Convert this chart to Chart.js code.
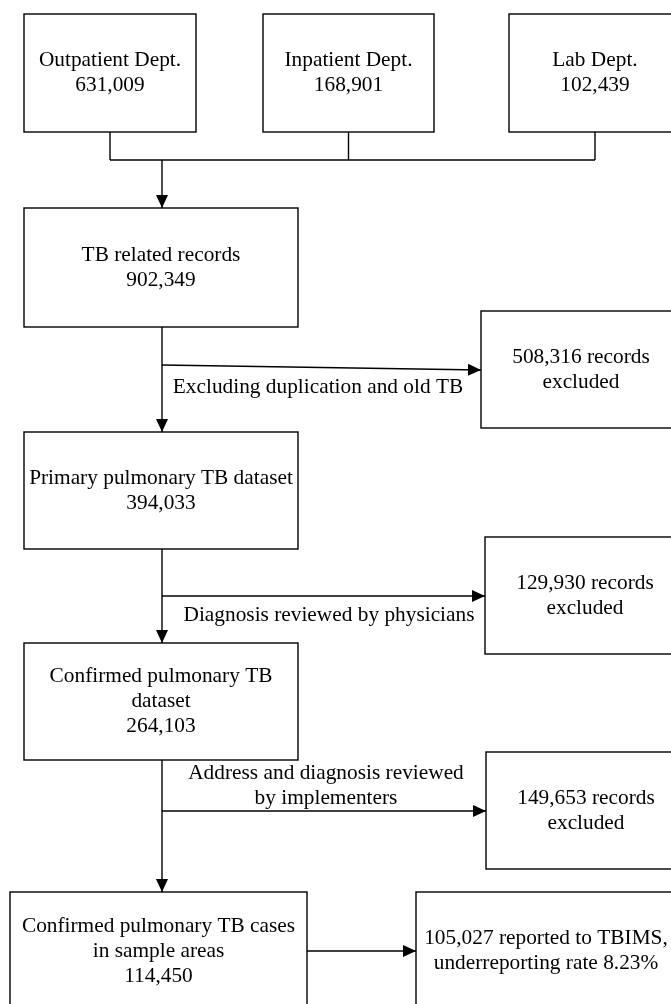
<!DOCTYPE html>
<html>
<head>
<meta charset="utf-8">
<script src="https://cdn.jsdelivr.net/npm/chart.js@4.4.1/dist/chart.umd.min.js"></script>
<style>
  html, body { margin: 0; padding: 0; background: #fff; }
  #wrap { width: 671px; height: 1004px; position: relative; }
</style>
</head>
<body>
<div id="wrap"><canvas id="flowChart"></canvas></div>
<script>
// Données du diagramme
const sourceDepts = ["Outpatient Dept.", "Inpatient Dept.", "Lab Dept."];
const sourceCounts = [631009, 168901, 102439];

const stageLabels = [
    ["TB related records"],
    ["Primary pulmonary TB dataset"],
    ["Confirmed pulmonary TB", "dataset"],
    ["Confirmed pulmonary TB cases", "in sample areas"]
];
const stageCounts = [902349, 394033, 264103, 114450];

const exclusionSteps = [
    ["Excluding duplication and old TB"],
    ["Diagnosis reviewed by physicians"],
    ["Address and diagnosis reviewed", "by implementers"]
];
const excludedCounts = [508316, 129930, 149653];

const reportedCount = 105027;
const underreportingRate = 8.23;

// Mise en page (unités = pixels de l'axe)
const sourceBoxes = [
    { x: 24, y: 14, w: 172, h: 118 },
    { x: 263, y: 14, w: 171, h: 118 },
    { x: 509, y: 14, w: 172, h: 118 }
];
const stageBoxes = [
    { x: 24, y: 208, w: 274, h: 119 },
    { x: 24, y: 432, w: 274, h: 117 },
    { x: 24, y: 643, w: 274, h: 117 },
    { x: 10, y: 892, w: 297, h: 118 }
];
const excludedBoxes = [
    { x: 481, y: 311, w: 200, h: 117 },
    { x: 485, y: 537, w: 200, h: 117 },
    { x: 486, y: 752, w: 200, h: 117 }
];
const reportBox = { x: 416, y: 892, w: 260, h: 118 };
const branchY = [[365, 370], [596, 596], [811, 811]];
const stepLabelPos = [
    { x: 318, y: 387 },
    { x: 329, y: 615 },
    { x: 326, y: 773 }
];
const mainX = 162;
const joinY = 160;
const lineH = 25;

const fmt = n => n.toLocaleString("en-US");

// Dessin des boîtes et des flèches avec les échelles du graphique
const flowPlugin = {
    id: "flow",
    afterDatasetsDraw(chart) {
        const ctx = chart.ctx;
        const X = v => chart.scales.x.getPixelForValue(v);
        const Y = v => chart.scales.y.getPixelForValue(v);

        ctx.save();
        ctx.strokeStyle = "#000";
        ctx.fillStyle = "#000";
        ctx.lineWidth = 1.4;
        ctx.font = '22px "Liberation Serif", "Times New Roman", serif';
        ctx.textAlign = "center";
        ctx.textBaseline = "middle";

        function box(b) {
            ctx.strokeRect(X(b.x), Y(b.y), X(b.x + b.w) - X(b.x), Y(b.y + b.h) - Y(b.y));
        }
        function lines(txt, cx, cy) {
            const top = cy - (txt.length - 1) * lineH / 2;
            txt.forEach((t, i) => {
                ctx.save();
                ctx.translate(X(cx), Y(top + i * lineH));
                ctx.scale(0.97, 1);
                ctx.fillText(t, 0, 0);
                ctx.restore();
            });
        }
        function line(x1, y1, x2, y2) {
            ctx.beginPath();
            ctx.moveTo(X(x1), Y(y1));
            ctx.lineTo(X(x2), Y(y2));
            ctx.stroke();
        }
        function arrow(x1, y1, x2, y2) {
            line(x1, y1, x2, y2);
            const a = Math.atan2(Y(y2) - Y(y1), X(x2) - X(x1));
            const L = 13, W = 6;
            const tx = X(x2), ty = Y(y2);
            ctx.beginPath();
            ctx.moveTo(tx, ty);
            ctx.lineTo(tx - L * Math.cos(a) + W * Math.sin(a), ty - L * Math.sin(a) - W * Math.cos(a));
            ctx.lineTo(tx - L * Math.cos(a) - W * Math.sin(a), ty - L * Math.sin(a) + W * Math.cos(a));
            ctx.closePath();
            ctx.fill();
        }

        // départements sources
        sourceBoxes.forEach((b, i) => {
            box(b);
            lines([sourceDepts[i], fmt(sourceCounts[i])], b.x + b.w / 2, b.y + b.h / 2);
            line(b.x + b.w / 2, b.y + b.h, b.x + b.w / 2, joinY);
        });
        line(sourceBoxes[0].x + sourceBoxes[0].w / 2, joinY, sourceBoxes[2].x + sourceBoxes[2].w / 2, joinY);
        arrow(mainX, joinY, mainX, stageBoxes[0].y);

        // étapes principales
        stageBoxes.forEach((b, i) => {
            box(b);
            lines(stageLabels[i].concat(fmt(stageCounts[i])), b.x + b.w / 2, b.y + b.h / 2);
            if (i < stageBoxes.length - 1) {
                const nb = stageBoxes[i + 1];
                arrow(mainX, b.y + b.h, mainX, nb.y);
                const eb = excludedBoxes[i];
                arrow(mainX, branchY[i][0], eb.x, branchY[i][1]);
                box(eb);
                lines([fmt(excludedCounts[i]) + " records", "excluded"], eb.x + eb.w / 2, eb.y + eb.h / 2);
                lines(exclusionSteps[i], stepLabelPos[i].x, stepLabelPos[i].y + (exclusionSteps[i].length - 1) * lineH / 2);
            }
        });

        // cas déclarés
        const last = stageBoxes[stageBoxes.length - 1];
        arrow(last.x + last.w, last.y + last.h / 2, reportBox.x, reportBox.y + reportBox.h / 2);
        box(reportBox);
        lines([fmt(reportedCount) + " reported to TBIMS,", "underreporting rate " + underreportingRate + "%"],
            reportBox.x + reportBox.w / 2, reportBox.y + reportBox.h / 2);

        ctx.restore();
    }
};

const ctx = document.getElementById("flowChart").getContext("2d");
const flowChart = new Chart(ctx, {
    type: "scatter",
    data: {
        datasets: [{
            data: stageBoxes.map((b, i) => ({ x: b.x + b.w / 2, y: b.y + b.h / 2, v: stageCounts[i] })),
            pointRadius: 0
        }]
    },
    options: {
        responsive: true,
        maintainAspectRatio: false,
        animation: false,
        layout: { padding: 0 },
        plugins: { legend: { display: false }, tooltip: { enabled: false } },
        scales: {
            x: { type: "linear", min: 0, max: 671, display: false },
            y: { type: "linear", min: 0, max: 1004, reverse: true, display: false }
        }
    },
    plugins: [flowPlugin]
});
</script>
</body>
</html>
